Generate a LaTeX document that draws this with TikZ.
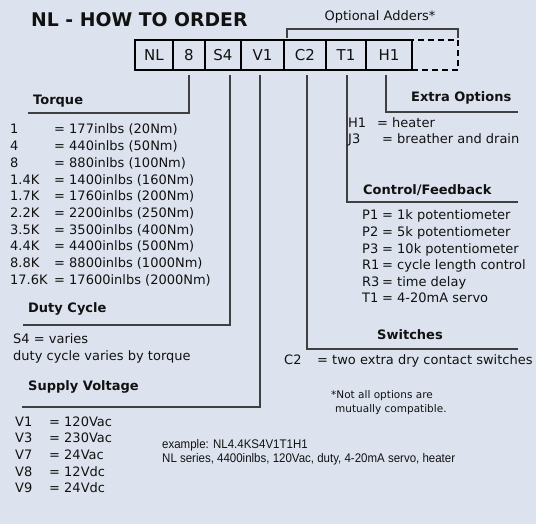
\documentclass[tikz,border=0pt]{standalone}
\usepackage{fontspec}
\setmainfont{DejaVu Sans}
\newfontfamily\narrowfont[FakeStretch=0.92]{Liberation Sans}
\usetikzlibrary{positioning,calc}
\definecolor{PanelBlue}{RGB}{221,227,238}
\definecolor{LineGray} {RGB}{ 64, 64, 64}
\definecolor{TextDark} {RGB}{ 17, 17, 17}
\tikzset{
  %% order code boxes
  codebox/.style={rectangle,draw=black,line width=1.2pt,
                  minimum height=30pt,inner sep=0pt,outer sep=0pt,
                  font=\fontsize{15}{17}\selectfont,text=TextDark},
  optbox/.style={codebox,dash pattern=on 6pt off 4pt},
  %% headings and lists
  hdlbl/.style={anchor=base west,inner sep=0pt,text=TextDark,
                font=\fontsize{13}{15}\selectfont\bfseries},
  itemtxt/.style={anchor=base west,inner sep=0pt,text=TextDark,
                  font=\fontsize{13}{15}\selectfont},
  notetxt/.style={anchor=base west,inner sep=0pt,text=TextDark,
                  font=\fontsize{10.5}{12}\selectfont},
  extxt/.style={anchor=base west,inner sep=0pt,text=TextDark,
                font=\fontsize{12.5}{14}\narrowfont},
  %% leader lines
  leader/.style={draw=LineGray,line width=1.2pt},
}
\begin{document}
\begin{tikzpicture}[x=1pt,y=-1pt]
    \useasboundingbox (0,0) rectangle (538,526);
    \fill[PanelBlue] (0,0) rectangle (536,524);

    %% title
    \node[anchor=base west,inner sep=0pt,text=TextDark,
          font=\fontsize{18.8}{22}\selectfont\bfseries] (title) at (31,27) {NL - HOW TO ORDER};

    %% code boxes
    \node[codebox,minimum width=38pt,anchor=north west] (NL) at (135,40) {NL};
    \node[codebox,minimum width=32pt,right=0pt of NL]  (B8)  {8};
    \node[codebox,minimum width=36pt,right=0pt of B8]  (S4)  {S4};
    \node[codebox,minimum width=43pt,right=0pt of S4]  (V1)  {V1};
    \node[codebox,minimum width=42pt,right=0pt of V1]  (C2)  {C2};
    \node[codebox,minimum width=40pt,right=0pt of C2]  (T1)  {T1};
    \node[codebox,minimum width=46pt,right=0pt of T1]  (H1)  {H1};
    \node[optbox, minimum width=46pt,right=0pt of H1]  (DSH) {};

    %% optional adders bracket
    \draw[leader] ($(C2.north west)+(3,-2)$) -- ++(0,-9) -| ($(DSH.north east)+(0,-2)$);
    \node[anchor=base,inner sep=0pt,text=TextDark,
          font=\fontsize{13}{15}\selectfont] (optlbl) at (380,21) {Optional Adders*};

    %% leader ends
    \coordinate (tqend) at (28,113);
    \coordinate (dcend) at (23,325);
    \coordinate (svend) at (22,407);
    \coordinate (swend) at (518,349);
    \coordinate (cfend) at (518,202);
    \coordinate (xoend) at (518,112);

    \draw[leader] ($(B8.south)+(0,5)$)    |- (tqend);
    \draw[leader] ($(S4.south)+(7,5)$)    |- (dcend);
    \draw[leader] ($(V1.south)+(-2.5,5)$) |- (svend);
    \draw[leader] ($(C2.south)+(2,5)$)    |- (swend);
    \draw[leader] ($(T1.south)+(1,5)$)    |- (cfend);
    \draw[leader] ($(H1.south)+(-3,5)$)   |- (xoend);

    %% torque
    \node[hdlbl] (tqhd) at (33,105) {Torque};
    \foreach \k/\v [count=\i] in {1/177inlbs (20Nm),4/440inlbs (50Nm),8/880inlbs (100Nm),
        1.4K/1400inlbs (160Nm),1.7K/1760inlbs (200Nm),2.2K/2200inlbs (250Nm),
        3.5K/3500inlbs (400Nm),4.4K/4400inlbs (500Nm),8.8K/8800inlbs (1000Nm),
        17.6K/17600inlbs (2000Nm)}{
      \node[itemtxt] (tqk\i) at (10,{134+16.67*(\i-1)}) {\k};
      \node[itemtxt] (tqv\i) at (54,{134+16.67*(\i-1)}) {= \v};
    }

    %% duty cycle
    \node[hdlbl]   (dchd)  at (28,313) {Duty Cycle};
    \node[itemtxt] (dcS4)  at (13,344) {S4 = varies};
    \node[itemtxt] (dcnote) at (13,361) {duty cycle varies by torque};

    %% supply voltage
    \node[hdlbl] (svhd) at (28,391) {Supply Voltage};
    \foreach \k/\v [count=\i] in {V1/120Vac,V3/230Vac,V7/24Vac,V8/12Vdc,V9/24Vdc}{
      \node[itemtxt] (svk\i) at (15,{426+16.7*(\i-1)}) {\k};
      \node[itemtxt] (svv\i) at (49,{426+16.7*(\i-1)}) {= \v};
    }

    %% extra options
    \node[hdlbl]   (xohd) at (411,102) {Extra Options};
    \node[itemtxt] (xok1) at (348,128) {H1};
    \node[itemtxt] (xov1) at (377,128) {= heater};
    \node[itemtxt] (xok2) at (348,144) {J3};
    \node[itemtxt] (xov2) at (382,144) {= breather and drain};

    %% control / feedback
    \node[hdlbl] (cfhd) at (363,195) {Control/Feedback};
    \foreach \k/\v [count=\i] in {P1/1k potentiometer,P2/5k potentiometer,
        P3/10k potentiometer,R1/cycle length control,R3/time delay,T1/4-20mA servo}{
      \node[itemtxt] (cfk\i) at (362,{220+16.6*(\i-1)}) {\k};
      \node[itemtxt] (cfv\i) at (382,{220+16.6*(\i-1)}) {= \v};
    }

    %% switches
    \node[hdlbl,anchor=base] (swhd) at (410,340) {Switches};
    \node[itemtxt] (swk) at (284,365) {C2};
    \node[itemtxt] (swv) at (317,365) {= two extra dry contact switches};

    %% notes
    \node[notetxt] (note1) at (331,399) {*Not all options are};
    \node[notetxt] (note2) at (335,412) {mutually compatible.};
    \node[extxt]   (ex1)   at (162,448) {example: NL4.4KS4V1T1H1};
    \node[extxt]   (ex2)   at (162,462) {NL series, 4400inlbs, 120Vac, duty, 4-20mA servo, heater};
  \end{tikzpicture}
\end{document}
